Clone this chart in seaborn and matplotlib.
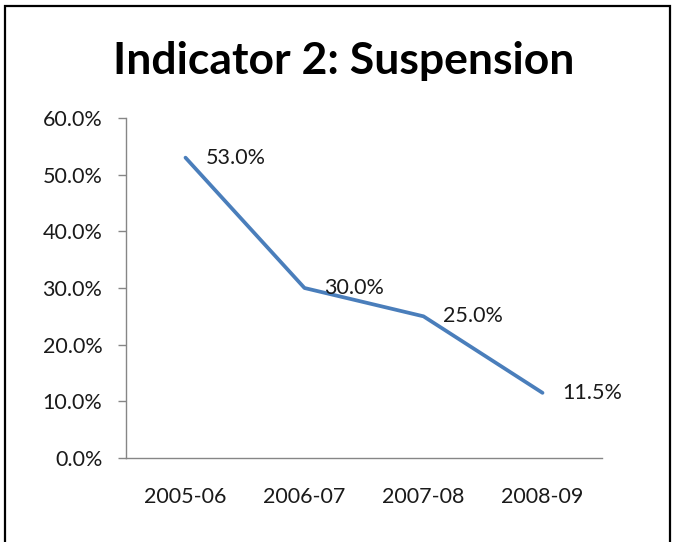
import pandas as pd
import seaborn as sns
import matplotlib.pyplot as plt
from matplotlib.patches import Rectangle
from matplotlib.ticker import FuncFormatter

sns.set_theme(style="white")
plt.rcParams["font.family"] = ["Lato", "DejaVu Sans"]

# data
years = ["2005-06", "2006-07", "2007-08", "2008-09"]
suspension = [53.0, 30.0, 25.0, 11.5]
y_ticks = [0, 10, 20, 30, 40, 50, 60]

data = pd.DataFrame({"year": years, "rate": suspension})

fig = plt.figure(figsize=(6.73, 5.42), dpi=100)
ax = fig.add_axes([126 / 673, 84 / 542, 476 / 673, 340 / 542])

sns.lineplot(data=data, x="year", y="rate", ax=ax, color="#4A7EBB",
             linewidth=2.7, sort=False)

for i, v in enumerate(suspension):
    ax.annotate(f"{v:.1f}%", (i, v), xytext=(20, 0), textcoords="offset pixels",
                ha="left", va="center", fontsize=15.5, color="#1a1a1a")

ax.set_xlim(-0.5, 3.5)
ax.set_ylim(0, 60)
ax.set_yticks(y_ticks)
ax.yaxis.set_major_formatter(FuncFormatter(lambda v, p: f"{v:.1f}%"))
ax.set_xlabel("")
ax.set_ylabel("")

for side in ["top", "right"]:
    ax.spines[side].set_visible(False)
for side in ["left", "bottom"]:
    ax.spines[side].set_color("#868686")
    ax.spines[side].set_linewidth(1.0)

ax.tick_params(axis="y", direction="out", length=6, width=1, color="#868686",
               pad=11, labelsize=15.5, labelcolor="#1a1a1a", left=True)
ax.tick_params(axis="x", length=0, pad=21, labelsize=15.5, labelcolor="#1a1a1a")

fig.text(344 / 673, 1 - 74 / 542, "Indicator 2: Suspension", ha="center",
         va="baseline", fontsize=32, fontweight="bold", color="black")

# outer chart border
fig.patches.append(Rectangle((5 / 673, -0.05), 665 / 673, 1.05 - 6 / 542,
                             transform=fig.transFigure, fill=False,
                             edgecolor="black", linewidth=1.6))

fig.savefig("out.png", dpi=100)
